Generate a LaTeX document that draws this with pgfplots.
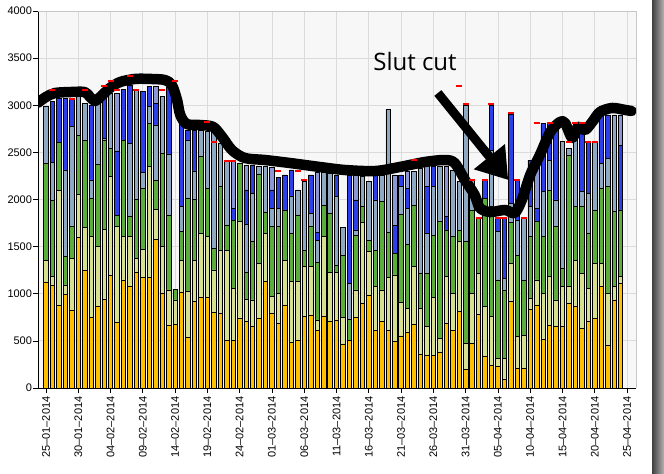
\documentclass[border=0pt]{standalone}
\usepackage{fontspec}
\setmainfont{Liberation Sans}
\newfontfamily\annfont{Open Sans}
\usepackage{pgfplots}
\pgfplotsset{compat=1.18}
\usepackage{pgfplotstable}
\usetikzlibrary{arrows.meta}
\definecolor{cOr}{HTML}{FFC000}
\definecolor{cYg}{HTML}{D6E08F}
\definecolor{cGr}{HTML}{5CAE3B}
\definecolor{cSt}{HTML}{8EA9C1}
\definecolor{cBl}{HTML}{2C3FE8}
\definecolor{cPe}{HTML}{8C97D3}

\pgfplotstableread{
idx orng ylgr grn stl blu per
0 1125 230 1025 605 0 0
1 1093 88 810 400 647 0
2 877 1220 510 0 467 0
3 994 99 304 916 761 0
4 828 548 339 1058 290 0
5 1599 456 626 446 0 0
6 1249 456 923 393 0 0
7 750 859 400 198 796 0
8 863 637 873 665 0 0
9 941 743 944 21 425 0
10 1196 1047 300 584 0 0
11 693 1019 120 0 683 608
12 1146 460 1026 0 533 0
13 1082 524 219 771 619 0
14 1231 145 626 1153 0 0
15 1174 297 648 166 859 0
16 1174 1175 459 177 212 0
17 1578 318 304 591 230 176
18 1004 496 990 608 0 0
19 661 379 796 647 707 0
20 676 258 113 0 0 0
21 1015 343 301 265 884 0
22 538 484 991 619 106 0
23 923 435 644 301 435 0
24 962 679 814 283 0 0
25 962 644 513 601 0 0
26 803 449 230 1316 0 0
27 792 672 672 460 0 0
28 509 955 266 689 0 0
29 509 549 725 0 123 496
30 739 1026 619 0 0 0
31 704 237 283 513 364 265
32 651 283 619 513 300 0
33 739 584 948 85 0 0
34 1128 513 223 485 0 0
35 792 177 743 194 195 237
36 686 318 708 194 329 0
37 881 477 531 0 371 0
38 485 643 513 389 283 0
39 509 619 708 265 0 0
40 757 530 177 725 0 0
41 775 512 425 141 407 0
42 615 107 608 240 82 633
43 757 849 336 343 0 0
44 711 516 626 425 0 0
45 722 505 71 732 230 0
46 467 283 654 301 0 0
47 509 0 220 382 1149 0
48 750 290 583 54 318 265
49 898 860 166 319 0 0
50 987 460 123 619 0 0
51 615 460 389 531 265 0
52 704 336 937 283 0 0
53 608 566 478 1305 0 0
54 492 707 230 0 294 537
55 552 357 937 290 124 0
56 587 258 679 382 213 177
57 676 611 648 361 0 0
58 361 484 372 1114 0 0
59 350 301 566 424 495 213
60 350 612 661 513 213 0
61 375 152 1238 584 0 0
62 686 495 496 0 141 531
63 615 389 602 707 0 0
64 810 743 124 512 0 0
65 198 276 1079 1450 0 0
66 474 530 885 318 0 0
67 782 435 583 0 0 0
68 340 523 1150 0 194 0
69 244 513 1167 601 478 0
70 226 89 831 513 141 0
71 92 223 725 124 636 0
72 916 407 431 206 947 0
73 209 336 866 372 417 0
74 209 353 584 654 0 0
75 835 116 655 318 495 0
76 881 265 619 0 141 566
77 516 488 602 477 725 0
78 668 513 920 318 389 0
79 658 276 778 283 813 0
80 651 424 195 1344 0 0
81 898 177 1397 71 0 0
82 863 495 566 884 0 0
83 633 584 707 159 725 0
84 704 354 583 425 548 0
85 739 584 566 725 0 0
86 1075 248 796 265 601 0
87 456 548 1132 301 460 0
88 934 141 796 1026 0 0
89 1111 70 708 0 689 319
}\datatable

\pgfplotsset{
  commonax/.style={
    at={(38bp,86bp)}, anchor=south west,
    scale only axis, width=598bp, height=377bp,
    xmin=-1.24, xmax=91.39, ymin=0, ymax=4000,
  }
}

\begin{document}
\begin{tikzpicture}
\useasboundingbox (0,0) rectangle (664bp,474bp);
\fill[white] (0,0) rectangle (664bp,474bp);
\shade[left color=black!75, right color=black!30] (652bp,0) rectangle (664bp,474bp);

\begin{axis}[commonax,
  ybar stacked, bar width=4.5bp,
  axis background/.style={fill=black!3},
  axis x line*=bottom, axis y line*=left,
  axis line style={-, black, line width=0.8bp},
  tick style={black, line width=0.7bp},
  tick align=outside, major tick length=5bp,
  xtick={0,5,...,90},
  xticklabels={25–01–2014,30–01–2014,04–02–2014,09–02–2014,14–02–2014,19–02–2014,24–02–2014,01–03–2014,06–03–2014,11–03–2014,16–03–2014,21–03–2014,26–03–2014,31–03–2014,05–04–2014,10–04–2014,15–04–2014,20–04–2014,25–04–2014},
  xticklabel style={rotate=90, anchor=east, font=\fontsize{11bp}{12bp}\selectfont},
  ytick={0,500,...,4000},
  yticklabel style={font=\fontsize{11bp}{12bp}\selectfont, xshift=2.5bp},
  /pgf/number format/assume math mode=true,
  /pgf/number format/1000 sep={},
  scaled y ticks=false,
  grid=major, major grid style={draw=black!14, line width=0.8bp},
  after end axis/.code={
    \draw[black!22, line width=0.8bp] (rel axis cs:0,1) -- (rel axis cs:1,1) -- (rel axis cs:1,0);
  },
  every axis plot/.append style={draw=black, line width=0.7bp},
]
\addplot[fill=cOr] table[x=idx, y=orng] \datatable;
\addplot[fill=cYg] table[x=idx, y=ylgr] \datatable;
\addplot[fill=cGr] table[x=idx, y=grn] \datatable;
\addplot[fill=cSt] table[x=idx, y=stl] \datatable;
\addplot[fill=cBl] table[x=idx, y=blu] \datatable;
\addplot[fill=cPe] table[x=idx, y=per] \datatable;
\end{axis}

\begin{axis}[commonax, hide axis]
\addplot[only marks, mark=-, mark size=3bp, mark options={draw=red, line width=2.2bp}] coordinates {
(1,3162) (4,3063) (6,3162) (9,3204) (10,3261) (11,3162) (13,3314) (14,3162) (18,3162) (20,3261)
(25,2819) (26,2614) (28,2412) (29,2412) (36,2303) (39,2303) (40,2207) (57,2419)
(64,3204) (65,3010) (66,2207) (67,1807) (68,2207) (69,3010) (70,1807) (71,1807) (72,2914)
(73,2207) (74,1807) (76,2815) (78,2815) (81,2614) (82,2815) (83,2815) (84,2614) (85,2614)
};
\addplot[black, line width=10.5bp, smooth, tension=0.5, line cap=round, line join=round] coordinates {
(-1.3,3024) (0,3088) (1.4,3130) (3.7,3140) (6,3140) (6.8,3088) (7.6,3045) (8.4,3088) (9.9,3183)
(11.5,3247) (13.8,3279) (16.1,3279) (18.4,3268) (19.5,3215) (20.3,3056) (20.8,2897) (21.8,2801)
(23.9,2790) (25.9,2770) (27.3,2663) (28.8,2525) (30.8,2440) (33.9,2419) (37.8,2387) (42.4,2345)
(46.3,2313) (51,2302) (54.8,2345) (58.7,2398) (61.8,2419) (63.3,2387) (64.9,2207) (66.4,2048)
(67.2,1910) (68.8,1867) (71.1,1889) (72.6,1857) (73.7,1995) (75,2260) (76.5,2472) (78.1,2716)
(79.6,2822) (80.4,2812) (81.5,2653) (82.4,2770) (83.5,2737) (84.6,2822) (85.8,2928) (87.7,2971)
(89.7,2950) (90.7,2939)
};
\draw[black, line width=9bp, -{Triangle[length=30bp, width=38bp]}] (axis cs:60.7,3130) -- (axis cs:71.6,2207);
\node[font=\annfont\fontsize{24bp}{28bp}\selectfont, inner sep=0pt] at (axis cs:57.16,3469) {Slut cut};
\end{axis}
\end{tikzpicture}
\end{document}
